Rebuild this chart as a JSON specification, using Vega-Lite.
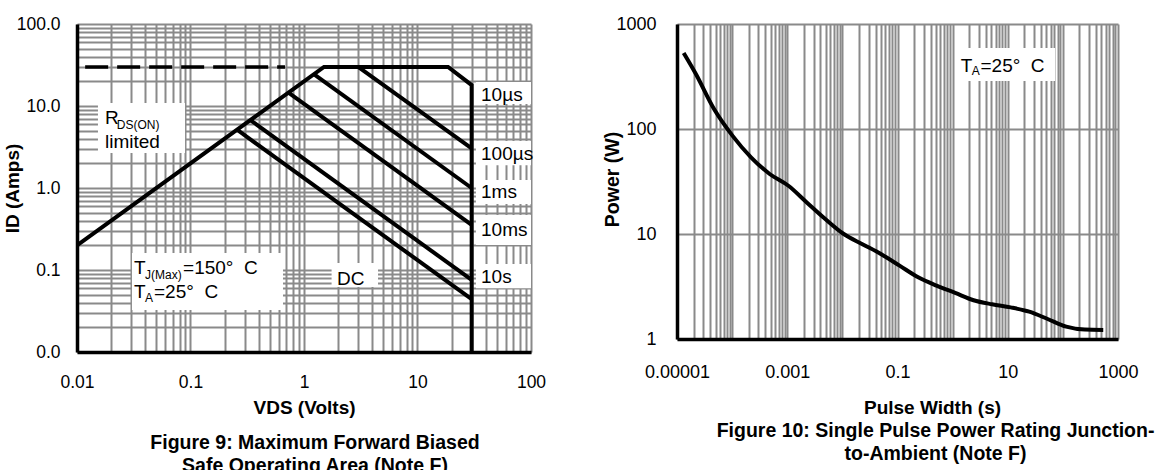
{
  "$schema": "https://vega.github.io/schema/vega-lite/v6.json",
  "padding": {"left": 3, "top": 15, "right": 0, "bottom": 0},
  "background": "white",
  "config": {
    "view": {"stroke": null},
    "font": "Liberation Sans",
    "axis": {
      "grid": true, "gridColor": "#8a8a8a", "gridWidth": 2, "gridOpacity": 1,
      "ticks": false, "domainColor": "black", "domainWidth": 3.5,
      "labelFont": "Liberation Sans", "labelColor": "black", "labelOverlap": false, "labelFlush": false,
      "titleFont": "Liberation Sans", "titleFontWeight": "bold", "titleColor": "black"
    }
  },
  "datasets": {
    "env": [
      {"v": 0.01, "i": 0.2, "o": 1},
      {"v": 1.5, "i": 30, "o": 2},
      {"v": 18.6, "i": 30, "o": 3},
      {"v": 30, "i": 18, "o": 4},
      {"v": 30, "i": 0.01, "o": 5}
    ],
    "pulses": [
      {"k": "100us", "v": 3, "i": 30},
      {"k": "100us", "v": 30, "i": 3.05},
      {"k": "1ms", "v": 1.22, "i": 24.5},
      {"k": "1ms", "v": 30, "i": 1.0},
      {"k": "10ms", "v": 0.73, "i": 14.6},
      {"k": "10ms", "v": 30, "i": 0.356},
      {"k": "10s", "v": 0.337, "i": 6.74},
      {"k": "10s", "v": 30, "i": 0.0757},
      {"k": "DC", "v": 0.257, "i": 5.14},
      {"k": "DC", "v": 30, "i": 0.044}
    ],
    "dash": [
      {"v": 0.0118, "i": 30},
      {"v": 0.68, "i": 30}
    ],
    "boxL": [
      {"v": 0.0153, "v2": 0.0895, "i": 10.9, "i2": 2.67},
      {"v": 0.0305, "v2": 0.653, "i": 0.161, "i2": 0.0325},
      {"v": 1.75, "v2": 4.49, "i": 0.1217, "i2": 0.062},
      {"v": 32.7, "v2": 100, "i": 19.6, "i2": 10.6},
      {"v": 32.7, "v2": 100, "i": 3.74, "i2": 1.9},
      {"v": 32.7, "v2": 100, "i": 1.25, "i2": 0.64},
      {"v": 32.7, "v2": 100, "i": 0.469, "i2": 0.202},
      {"v": 32.7, "v2": 100, "i": 0.118, "i2": 0.06}
    ],
    "textL": [
      {"v": 0.01765, "i": 7.08, "s": "R"},
      {"v": 0.01765, "i": 3.67, "s": "limited"},
      {"v": 0.0318, "i": 0.1058, "s": "T"},
      {"v": 0.086, "i": 0.1058, "s": "=150° \u00a0C"},
      {"v": 0.0318, "i": 0.054, "s": "T"},
      {"v": 0.0477, "i": 0.054, "s": "=25° \u00a0C"},
      {"v": 1.95, "i": 0.0776, "s": "DC"},
      {"v": 36.3, "i": 13.6, "s": "10µs"},
      {"v": 36.3, "i": 2.58, "s": "100µs"},
      {"v": 36.3, "i": 0.9, "s": "1ms"},
      {"v": 36.3, "i": 0.308, "s": "10ms"},
      {"v": 36.3, "i": 0.0828, "s": "10s"}
    ],
    "subL": [
      {"v": 0.0224, "i": 5.8, "s": "DS(ON)"},
      {"v": 0.0397, "i": 0.086, "s": "J(Max)"},
      {"v": 0.0397, "i": 0.045, "s": "A"}
    ],
    "curve": [
      {"w": 0.0000132, "p": 530},
      {"w": 0.000022, "p": 334},
      {"w": 0.000047, "p": 155},
      {"w": 0.000102, "p": 86},
      {"w": 0.00022, "p": 53.7},
      {"w": 0.00048, "p": 37.3},
      {"w": 0.00105, "p": 28.8},
      {"w": 0.00226, "p": 20},
      {"w": 0.0049, "p": 13.9},
      {"w": 0.0106, "p": 10},
      {"w": 0.0231, "p": 8.0},
      {"w": 0.05, "p": 6.45},
      {"w": 0.109, "p": 5.0},
      {"w": 0.237, "p": 3.87},
      {"w": 0.513, "p": 3.22},
      {"w": 1.11, "p": 2.75},
      {"w": 2.4, "p": 2.34},
      {"w": 5.2, "p": 2.14},
      {"w": 11.3, "p": 2.0},
      {"w": 24.5, "p": 1.82},
      {"w": 53, "p": 1.55},
      {"w": 115, "p": 1.31},
      {"w": 250, "p": 1.23},
      {"w": 540, "p": 1.22}
    ],
    "boxR": [
      {"w": 1.11, "w2": 72.4, "p": 590, "p2": 287}
    ],
    "textR": [
      {"w": 1.4, "p": 401, "s": "T"},
      {"w": 3.2, "p": 401, "s": "=25° \u00a0C"}
    ],
    "subR": [
      {"w": 2.22, "p": 357, "s": "A"}
    ]
  },
  "hconcat": [
    {
      "width": 454,
      "height": 328,
      "title": {
        "text": ["Figure 9: Maximum Forward Biased", "Safe Operating Area (Note F)"],
        "orient": "bottom", "anchor": "middle", "frame": "group",
        "dx": 11, "offset": 17, "fontSize": 19.5, "font": "Liberation Sans",
        "fontWeight": "bold", "color": "black", "lineHeight": 23
      },
      "encoding": {
        "x": {
          "field": "v", "type": "quantitative",
          "scale": {"type": "log", "domain": [0.01, 100]},
          "axis": {
            "title": "VDS (Volts)",
            "values": [0.01,0.02,0.03,0.04,0.05,0.06,0.07,0.08,0.09,0.1,0.2,0.3,0.4,0.5,0.6,0.7,0.8,0.9,1,2,3,4,5,6,7,8,9,10,20,30,40,50,60,70,80,90,100],
            "labelExpr": "abs(log(datum.value)/LN10 - round(log(datum.value)/LN10)) < 0.001 ? format(datum.value, '~g') : ''",
            "labelFontSize": 17.5, "labelPadding": 21,
            "titleFontSize": 19, "titleY": 55, "titleBaseline": "middle"
          }
        },
        "y": {
          "field": "i", "type": "quantitative",
          "scale": {"type": "log", "domain": [0.01, 100]},
          "axis": {
            "title": "ID (Amps)",
            "values": [0.01,0.02,0.03,0.04,0.05,0.06,0.07,0.08,0.09,0.1,0.2,0.3,0.4,0.5,0.6,0.7,0.8,0.9,1,2,3,4,5,6,7,8,9,10,20,30,40,50,60,70,80,90,100],
            "labelExpr": "abs(log(datum.value)/LN10 - round(log(datum.value)/LN10)) < 0.001 ? format(datum.value, '.1f') : ''",
            "labelFontSize": 17.5, "labelPadding": 17,
            "titleFontSize": 19, "titleX": -65, "titleY": 164, "titleBaseline": "middle"
          }
        }
      },
      "layer": [
        {
          "data": {"name": "boxL"},
          "mark": {"type": "rect", "fill": "white", "stroke": null},
          "encoding": {"x2": {"field": "v2"}, "y2": {"field": "i2"}}
        },
        {
          "data": {"name": "env"},
          "mark": {"type": "line", "color": "black", "strokeWidth": 4, "strokeJoin": "miter"},
          "encoding": {"order": {"field": "o", "type": "quantitative"}}
        },
        {
          "data": {"name": "pulses"},
          "mark": {"type": "line", "color": "black", "strokeWidth": 4},
          "encoding": {"detail": {"field": "k", "type": "nominal"}}
        },
        {
          "data": {"name": "dash"},
          "mark": {"type": "line", "color": "black", "strokeWidth": 3.5, "strokeDash": [23, 9]},
          "encoding": {}
        },
        {
          "data": {"name": "textL"},
          "mark": {"type": "text", "align": "left", "baseline": "middle", "fontSize": 19, "font": "Liberation Sans", "color": "black"},
          "encoding": {"text": {"field": "s", "type": "nominal"}}
        },
        {
          "data": {"name": "subL"},
          "mark": {"type": "text", "align": "left", "baseline": "middle", "fontSize": 12, "font": "Liberation Sans", "color": "black"},
          "encoding": {"text": {"field": "s", "type": "nominal"}}
        }
      ]
    },
    {
      "width": 441,
      "height": 315,
      "title": {
        "text": ["Figure 10: Single Pulse Power Rating Junction-", "to-Ambient (Note F)"],
        "orient": "bottom", "anchor": "middle", "frame": "group",
        "dx": 38, "offset": 5, "fontSize": 19.5, "font": "Liberation Sans",
        "fontWeight": "bold", "color": "black", "lineHeight": 23
      },
      "encoding": {
        "x": {
          "field": "w", "type": "quantitative",
          "scale": {"type": "log", "domain": [0.00001, 1000]},
          "axis": {
            "title": "Pulse Width (s)",
            "values": [0.00001,0.00002,0.00003,0.00004,0.00005,0.00006,0.00007,0.00008,0.00009,0.0001,0.0002,0.0003,0.0004,0.0005,0.0006,0.0007,0.0008,0.0009,0.001,0.002,0.003,0.004,0.005,0.006,0.007,0.008,0.009,0.01,0.02,0.03,0.04,0.05,0.06,0.07,0.08,0.09,0.1,0.2,0.3,0.4,0.5,0.6,0.7,0.8,0.9,1,2,3,4,5,6,7,8,9,10,20,30,40,50,60,70,80,90,100,200,300,400,500,600,700,800,900,1000],
            "labelExpr": "(abs(log(datum.value)/LN10 - round(log(datum.value)/LN10)) < 0.001 && abs(round(log(datum.value)/LN10)) % 2 == 1) ? format(datum.value, '.5~f') : ''",
            "labelFontSize": 18, "labelPadding": 24,
            "titleFontSize": 19, "titleX": 255, "titleY": 68, "titleBaseline": "middle"
          }
        },
        "y": {
          "field": "p", "type": "quantitative",
          "scale": {"type": "log", "domain": [1, 1000]},
          "axis": {
            "title": "Power (W)",
            "values": [1, 10, 100, 1000],
            "format": "d",
            "labelFontSize": 18, "labelPadding": 21,
            "titleFontSize": 19.5, "titleX": -65, "titleY": 155, "titleBaseline": "middle"
          }
        }
      },
      "layer": [
        {
          "data": {"name": "boxR"},
          "mark": {"type": "rect", "fill": "white", "stroke": null},
          "encoding": {"x2": {"field": "w2"}, "y2": {"field": "p2"}}
        },
        {
          "data": {"name": "curve"},
          "mark": {"type": "line", "color": "black", "strokeWidth": 4, "interpolate": "monotone"},
          "encoding": {}
        },
        {
          "data": {"name": "textR"},
          "mark": {"type": "text", "align": "left", "baseline": "middle", "fontSize": 19, "font": "Liberation Sans", "color": "black"},
          "encoding": {"text": {"field": "s", "type": "nominal"}}
        },
        {
          "data": {"name": "subR"},
          "mark": {"type": "text", "align": "left", "baseline": "middle", "fontSize": 12, "font": "Liberation Sans", "color": "black"},
          "encoding": {"text": {"field": "s", "type": "nominal"}}
        }
      ]
    }
  ],
  "spacing": 146,
  "bounds": "flush"
}
